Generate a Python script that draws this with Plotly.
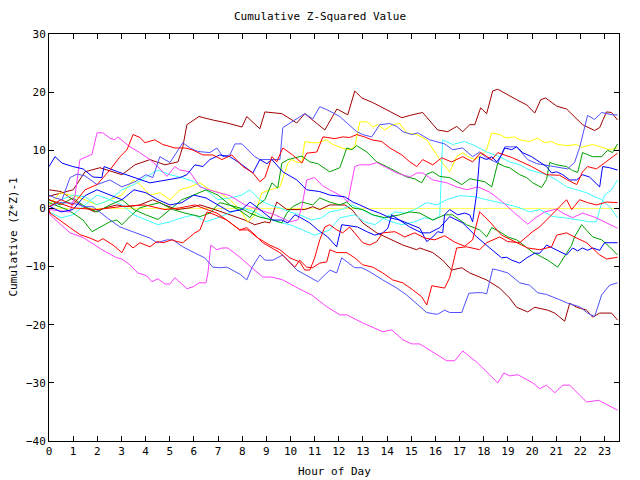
import plotly.graph_objects as go

# ---- data (hour of day, cumulative (Z*Z)-1) ----
dr_top_h = [0,1.0,1.49,2.11,3.02,3.56,4.18,4.80,5.34,5.54,5.71,6.21,6.79,7.37,7.99,8.19,8.73,8.94,9.64,10.26,10.59,11.42,11.92,12.37,12.66,12.95,13.41,13.98,14.61,14.94,15.47,16.09,16.51,16.88,17.13,17.42,17.63,17.87,18.12,18.37,18.58,19.36,19.78,20.11,20.36,20.56,21.02,21.43,22.09,22.59,22.80,23.08,23.29,23.54]
dr_top_v = [2.1,3.2,6.3,7.0,5.8,7.5,8.4,7.5,8.0,10.6,14.4,15.8,15.2,14.7,14.0,15.8,13.7,16.6,16.3,14.7,16.3,13.5,17.1,16.1,20.2,19.0,18.2,17.0,15.6,16.0,16.5,13.5,13.2,14.1,13.2,14.4,14.4,17.3,16.3,20.2,20.5,18.7,17.8,16.4,18.7,19.0,17.6,17.1,14.4,13.4,13.9,16.6,16.5,15.2]

lb_top_h = [0,0.25,0.54,0.87,1.16,1.49,1.99,2.52,3.02,3.56,4.01,4.30,4.59,5.01,5.54,5.83,6.16,6.66,6.95,7.20,7.49,7.70,7.99,8.52,8.73,9.56,9.68,10.18,10.38,10.59,10.92,11.21,11.50,12.04,12.74,12.99,13.36,13.69,14.11,14.40,14.65,15.02,15.27,15.76,16.38,16.71,17.13,17.54,17.83,18.12,18.58,18.87,19.36,19.82,20.19,20.85,21.47,21.76,21.97,22.30,22.59,22.88,23.33,23.54]
lb_top_v = [2.3,1.8,1.5,5.3,5.9,5.6,4.1,4.9,3.7,4.6,5.8,5.3,8.9,7.9,11.3,10.4,9.8,9.6,10.4,8.9,9.2,11.1,11.1,8.9,8.4,8.4,13.9,15.2,15.7,16.3,15.4,17.5,17.0,15.8,13.2,12.7,12.3,14.4,14.6,14.1,13.2,12.7,13.0,11.8,11.1,10.1,10.4,8.9,9.7,8.7,7.8,10.6,10.6,8.4,7.7,7.3,6.8,7.9,10.5,16.0,15.3,16.5,16.1,16.1]

g_top_h = [0,0.46,0.99,1.49,1.99,2.52,3.02,3.52,4.01,4.51,5.01,5.50,5.99,6.50,6.99,7.49,7.99,8.32,8.65,8.94,9.23,9.47,9.64,9.89,10.47,10.80,11.13,11.62,12.04,12.33,12.54,12.74,13.16,13.57,13.98,14.40,14.81,15.14,15.43,15.64,15.89,16.18,16.59,17.09,17.42,17.67,18.04,18.33,18.58,18.87,19.07,19.49,19.78,20.03,20.40,20.60,20.73,21.02,21.43,21.68,21.89,22.09,22.51,22.88,23.13,23.33,23.54]
g_top_v = [1.5,0.6,1.8,0.3,-0.6,0.6,1.5,-0.2,-1.1,-1.9,-0.2,1.5,2.3,3.2,2.3,0.6,-0.6,-1.6,0.6,1.5,4.4,3.5,7.8,8.4,9.0,8.0,7.7,6.3,7.0,10.4,10.1,10.8,9.7,8.0,7.2,6.3,5.4,5.1,4.4,5.9,6.3,5.5,5.3,4.1,5.1,4.9,4.6,3.7,7.8,7.2,7.0,5.8,5.3,4.4,3.6,5.0,7.9,7.5,7.2,6.5,6.2,9.6,8.9,8.9,10.0,9.6,11.1]

yel_h = [0,0.46,0.99,1.49,1.99,2.52,3.02,3.48,3.77,4.18,4.59,5.01,5.42,5.83,6.25,6.66,7.07,7.49,7.90,8.23,8.52,8.81,9.14,9.56,9.89,10.05,10.30,10.47,10.59,10.88,11.13,11.50,11.75,12.12,12.45,12.66,12.87,13.16,13.41,13.61,13.90,14.23,14.52,14.81,15.23,15.64,16.18,16.59,16.88,17.13,17.34,17.63,17.92,18.12,18.33,18.66,18.95,19.28,19.49,19.90,20.23,20.52,20.81,21.06,21.43,21.85,22.05,22.51,22.88,23.21,23.54]
yel_v = [0.6,2.7,2.2,1.5,0.6,1.5,2.3,4.9,4.1,2.3,2.7,1.5,3.2,3.7,4.4,3.2,2.7,1.5,-0.2,-2.3,-1.1,2.7,3.2,3.7,7.8,8.4,7.9,8.0,11.5,11.3,11.3,11.8,11.0,10.4,10.1,10.6,14.9,14.9,14.0,14.4,13.5,14.4,14.6,13.0,12.7,11.8,8.4,6.3,8.9,9.6,8.9,8.4,9.2,10.1,13.0,12.7,12.1,12.3,11.8,11.5,12.1,11.3,11.5,11.0,10.8,11.0,10.5,11.0,10.5,10.1,10.4]

r_a_h = [0,0.50,0.99,1.49,1.99,2.52,2.94,3.23,3.48,3.77,3.97,4.38,4.71,5.21,5.63,5.92,6.37,6.78,7.16,7.57,8.03,8.44,8.73,8.94,9.23,9.43,9.68,10.09,10.47,10.67,11.09,11.34,11.54,11.83,12.16,12.45,12.74,13.07,13.36,13.78,14.11,14.61,14.94,15.23,15.47,15.89,16.26,16.67,17.13,17.54,17.87,18.33,18.58,19.20,19.57,19.98,20.60,21.14,21.47,21.85,22.09,22.30,22.67,23.08,23.54]
r_a_v = [0.3,1.5,0.6,3.2,4.1,6.6,8.9,10.1,12.7,12.2,11.3,11.8,11.0,10.4,10.4,10.1,9.2,9.2,8.4,9.2,7.2,6.1,4.6,5.3,8.9,8.0,10.4,9.2,7.8,9.5,9.7,12.3,12.2,12.0,12.3,12.2,12.7,12.3,11.8,11.5,10.4,9.2,8.0,7.2,8.4,7.5,8.7,8.0,8.9,8.0,9.6,8.4,9.6,8.7,8.0,7.2,5.8,5.7,4.9,4.1,6.3,7.2,6.8,8.0,9.5]

b_a_h = [0,0.25,0.54,0.99,1.41,1.82,2.19,2.28,2.85,3.48,4.18,4.88,5.42,5.71,6.04,6.37,6.66,7.07,7.49,7.90,8.44,8.73,9.02,9.23,9.68,10.26,10.67,11.21,11.62,12.25,12.58,12.87,13.28,13.69,14.11,14.52,15.02,15.35,15.64,15.89,16.09,16.30,16.38,16.59,16.92,17.21,17.42,17.54,17.71,17.83,18.12,18.33,18.54,18.74,18.87,19.16,19.36,19.61,19.98,20.40,20.60,20.81,21.02,21.27,21.56,21.85,22.09,22.38,22.80,22.92,23.21,23.54]
b_a_v = [7.2,8.9,7.8,7.2,6.8,5.4,5.3,7.2,6.3,5.4,4.4,4.9,5.3,5.8,7.5,7.2,8.4,9.2,8.9,7.8,6.1,8.4,7.7,8.4,6.3,4.9,3.2,2.9,2.3,2.0,1.1,0.6,-0.2,-0.8,-1.6,-2.0,-2.8,-3.4,-5.7,-4.9,-4.0,-4.2,-1.1,-0.2,-1.1,-0.8,-1.1,-2.3,2.7,8.9,8.4,8.9,8.0,9.2,10.4,10.1,10.6,9.6,8.9,7.8,7.2,6.1,6.3,5.8,4.9,4.9,5.8,5.4,3.7,7.2,7.0,6.6]

b_b_h = [0,0.50,0.99,1.49,1.99,2.52,3.02,3.52,4.01,4.51,5.01,5.50,5.99,6.50,6.99,7.49,7.99,8.32,8.65,8.98,9.27,9.64,9.89,10.18,10.38,10.80,11.13,11.54,11.91,12.12,12.45,12.78,13.16,13.49,13.82,14.03,14.19,14.52,14.94,15.43,15.76,16.18,16.59,17.13,17.71,18.25,18.74,18.95,19.16,19.49,19.78,20.11,20.32,20.60,20.85,21.14,21.43,21.68,21.89,22.09,22.30,22.51,22.80,23.00,23.54]
b_b_v = [0.4,-0.6,-0.2,2.2,3.2,2.3,1.5,3.2,2.7,1.5,0.6,1.0,2.3,1.8,0.6,-0.6,-0.2,1.1,0.1,-1.1,-2.0,-2.0,-2.5,-1.1,-1.5,-2.5,-3.7,-4.9,-6.6,-2.8,-3.0,-3.2,-4.0,-4.6,-4.2,-3.4,-1.1,-2.0,-3.2,-4.2,-4.2,-3.3,-1.4,-2.5,-4.9,-6.8,-8.5,-8.4,-8.9,-9.4,-8.5,-7.7,-7.7,-6.3,-6.8,-7.5,-8.0,-6.8,-7.3,-6.8,-7.2,-6.8,-7.2,-5.9,-5.9]

c_a_h = [0,0.50,0.99,1.49,1.99,2.52,3.02,3.52,4.01,4.51,5.01,5.50,5.99,6.50,6.99,7.49,7.99,8.52,8.94,9.47,9.97,10.51,11.00,11.62,12.04,12.66,13.07,13.49,13.90,14.32,14.73,15.14,15.64,16.05,16.47,17.01,17.63,18.12,18.66,19.07,19.49,19.90,20.32,20.85,21.35,21.89,22.38,22.67,22.80,23.00,23.29,23.54]
c_a_v = [-0.6,-1.6,-1.1,0.6,2.3,1.5,0.6,-1.1,-2.0,-2.8,-2.3,-1.6,-1.1,-2.3,-1.6,-0.8,0.1,-0.6,-1.6,-2.3,-2.8,-3.7,-4.6,-3.7,-1.6,-1.1,-2.3,-2.8,-1.6,-0.6,-0.8,-0.2,1.0,0.6,1.5,2.2,2.0,1.5,1.0,0.6,0.1,-0.6,-0.2,-1.4,-1.6,-2.0,-2.3,-2.3,-0.2,2.3,3.2,4.9]

c_b_h = [0,0.50,0.99,1.49,1.99,2.52,3.02,3.52,4.01,4.51,5.01,5.50,5.99,6.50,6.99,7.49,7.99,8.32,8.73,9.14,9.56,9.97,10.38,10.88,11.29,11.62,12.12,12.54,12.95,13.36,13.78,14.19,14.61,15.14,15.56,15.97,16.18,16.30,16.71,17.21,17.63,18.12,18.66,19.07,19.49,19.90,20.60,21.02,21.43,21.85,22.26,22.59,22.88,23.21,23.54]
c_b_v = [0.3,1.5,2.3,2.0,0.6,1.5,3.2,4.1,5.4,6.6,5.8,5.3,4.6,3.2,1.5,1.8,2.3,3.2,1.5,0.6,0.1,-0.6,-1.1,-2.0,-1.6,-0.6,-0.2,0.6,-0.2,-1.1,-1.6,-2.3,-2.8,-2.3,-1.6,-2.0,-1.1,11.8,11.0,11.5,10.8,9.7,8.9,8.0,7.5,6.6,5.8,4.9,3.7,3.2,2.7,2.0,1.5,0.3,-1.6]

r_b_h = [0,0.04,0.87,1.28,1.70,2.03,2.23,2.65,3.02,3.23,3.48,3.76,4.18,4.47,4.72,5.09,5.30,5.54,5.83,6.04,6.25,6.37,6.54,6.87,7.36,7.90,8.19,8.44,8.85,9.56,9.89,10.18,10.38,10.67,10.92,11.21,11.50,11.63,11.92,12.33,12.66,12.99,13.41,13.82,14.23,14.65,15.06,15.43,15.64,15.85,16.38,16.59,16.88,17.29,17.83,18.12,18.66,18.99,19.49,20.02,20.31,21.02,21.43,21.64,21.97,22.30,22.67,23.09,23.54]
r_b_v = [-0.2,-0.8,-3.3,-4.5,-5.1,-5.7,-5.2,-6.3,-7.6,-5.9,-6.8,-5.9,-6.6,-5.7,-5.9,-5.4,-5.7,-5.9,-4.9,-4.2,-3.7,-2.5,-0.6,-1.1,-2.0,-3.7,-3.3,-4.2,-5.9,-7.6,-8.9,-10.1,-8.9,-10.1,-10.2,-9.4,-9.2,-7.1,-7.6,-7.6,-8.5,-9.7,-10.1,-11.1,-12.3,-12.8,-14.0,-15.2,-16.6,-13.3,-13.7,-11.9,-6.8,-6.6,-7.1,-5.9,-4.9,-5.7,-5.9,-4.0,-3.2,-0.2,1.5,-0.2,1.5,1.0,0.6,1.1,1.0]

r_c_h = [0,0.99,1.99,2.94,3.97,4.80,5.42,6.04,6.54,6.95,7.36,7.90,8.23,8.65,9.14,9.56,9.97,10.38,10.59,10.80,11.00,11.13,11.21,11.42,11.62,11.92,12.16,12.45,12.78,12.99,13.28,13.57,13.82,14.32,14.73,15.14,15.56,15.97,16.38,16.80,17.21,17.54,17.83,18.25,18.74,19.28,19.82,20.32,20.81,21.02,21.43,21.85,22.26,22.80,23.09,23.54]
r_c_v = [1.5,0.1,-0.2,0.3,0.6,-0.2,0.1,0.6,-0.2,-0.8,-2.0,-3.7,-3.7,-5.1,-6.3,-7.1,-8.5,-9.2,-10.6,-10.6,-8.5,-6.8,-5.4,-3.2,-2.8,-3.7,-4.2,-3.2,-4.9,-5.9,-6.3,-5.7,-4.2,-4.0,-4.9,-4.2,-5.1,-5.4,-4.7,-5.8,-6.5,-5.4,-0.6,-2.3,-4.6,-5.7,-6.8,-7.1,-6.6,-4.6,-4.2,-5.1,-5.9,-8.0,-8.7,-8.4]

m_mid_h = [0,0.87,1.08,1.28,1.78,1.99,2.23,2.52,2.73,2.85,3.14,3.35,3.76,4.18,4.51,4.88,5.21,5.42,5.83,6.25,6.87,7.49,8.11,8.73,9.35,9.97,10.30,10.47,10.67,11.00,11.33,11.62,12.16,12.37,12.54,12.66,12.87,13.28,13.57,13.90,14.40,14.94,15.23,15.47,15.89,16.47,16.88,17.30,17.75,18.25,18.78,19.28,19.49,19.82,20.19,20.52,21.02,21.27,21.68,22.09,22.59,23.08,23.54]
m_mid_v = [-0.2,-0.6,2.3,8.4,9.3,13.0,13.0,12.1,11.8,12.3,11.3,10.6,9.6,8.4,7.2,5.5,7.2,6.6,6.3,3.7,2.9,2.2,0.6,-0.2,-1.1,-2.3,-2.0,0.3,4.9,5.3,3.9,3.2,2.0,1.1,4.4,7.2,7.5,7.5,7.9,7.2,6.1,5.4,6.1,6.1,4.9,4.4,3.7,3.2,3.7,2.8,1.1,-0.8,-1.6,-2.7,-1.5,-0.6,-0.1,-0.8,-1.6,-0.8,-1.5,-2.5,-3.4]

lb_bot_h = [0,0.45,0.99,1.49,1.82,2.40,2.94,3.64,4.18,4.47,4.88,5.13,5.54,5.96,6.45,6.78,7.07,7.36,7.90,8.19,8.40,8.73,8.94,9.27,9.68,10.26,10.67,11.13,11.63,11.91,12.12,12.66,12.95,13.28,13.82,14.40,14.81,15.22,15.64,15.89,16.09,16.38,16.59,17.09,17.38,17.67,17.96,18.12,18.37,18.58,19.00,19.49,19.90,20.23,20.60,21.14,21.47,21.97,22.30,22.59,22.88,23.21,23.54]
lb_bot_v = [0.3,1.0,0.9,0.3,0.3,-1.6,-3.2,-4.2,-5.1,-5.9,-5.4,-5.4,-6.6,-7.5,-8.5,-10.1,-10.2,-10.1,-11.3,-12.3,-10.2,-8.0,-8.9,-8.9,-8.0,-10.6,-11.5,-12.6,-10.6,-11.1,-8.5,-10.2,-10.2,-10.9,-12.3,-13.7,-14.9,-16.3,-17.9,-18.1,-18.2,-17.5,-17.9,-17.9,-14.6,-14.5,-14.5,-14.7,-10.4,-10.6,-11.1,-12.8,-13.2,-14.5,-14.8,-15.7,-16.3,-16.9,-18.0,-18.6,-14.9,-13.2,-12.8]

dr_bot_h = [0,0.50,0.99,1.41,1.90,2.32,2.81,3.23,3.76,4.30,4.80,5.30,5.83,6.25,6.87,7.49,8.11,8.52,8.94,9.14,9.43,9.85,10.59,10.92,11.21,11.62,12.25,12.54,12.99,13.57,14.23,14.65,15.22,15.35,15.89,16.30,16.67,17.09,17.42,18.12,18.66,19.07,19.36,19.82,20.11,20.65,20.94,21.35,21.56,21.85,22.26,22.51,22.80,23.29,23.54]
dr_bot_v = [3.2,2.9,1.5,0.3,-0.6,0.1,0.6,0.3,0.6,1.5,0.6,-0.2,0.1,0.6,-0.2,-1.1,-2.0,-2.8,-2.3,-2.5,1.1,-0.2,-0.2,0.3,-0.2,0.6,0.6,-0.2,-2.5,-4.2,-5.4,-6.3,-7.1,-6.8,-7.6,-8.9,-10.6,-10.2,-11.1,-12.3,-13.7,-15.4,-17.0,-17.8,-17.0,-17.5,-18.0,-19.4,-16.3,-17.0,-17.5,-18.7,-18.0,-18.0,-19.2]

g_b_h = [0,0.74,0.99,1.41,1.78,2.11,2.52,2.81,3.02,3.43,3.76,4.18,4.59,5.13,5.63,6.25,6.66,7.07,7.49,7.90,8.32,8.73,9.27,9.64,9.85,10.09,10.47,10.92,11.21,11.62,12.04,12.33,12.58,12.99,13.41,13.90,14.52,14.94,15.35,15.89,16.38,16.71,17.29,17.83,18.12,18.33,18.74,18.99,19.36,20.02,20.65,21.06,21.43,21.64,21.76,22.05,22.51,22.88,23.21,23.54]
g_b_v = [1.0,-0.2,-0.8,-2.0,-4.0,-3.3,-2.3,-2.0,-2.8,-1.1,0.1,0.6,1.0,-0.2,-0.8,-1.4,-0.8,1.0,0.6,0.1,-0.8,-1.5,-2.0,-2.5,-0.8,0.3,1.1,0.6,1.8,1.1,0.6,1.1,0.1,-0.2,-1.1,-1.6,-1.1,-0.6,-0.8,-2.0,-1.1,-1.1,-2.8,-3.7,-4.9,-3.3,-4.2,-4.9,-5.4,-7.5,-8.9,-10.1,-7.7,-6.3,-4.9,-2.8,-4.9,-5.4,-6.6,-8.0]

m_bot_h = [0,0.04,0.87,1.41,1.90,2.19,2.81,3.02,3.35,3.68,4.05,4.26,4.51,4.80,5.01,5.21,5.71,5.96,6.21,6.50,6.58,6.70,6.95,7.16,7.41,7.90,8.40,8.85,9.23,9.68,10.30,10.88,11.50,12.04,12.33,12.99,13.82,14.19,14.65,15.02,15.35,16.05,16.47,16.80,17.13,17.75,18.58,18.83,19.07,19.41,20.03,20.32,20.60,20.94,21.27,21.56,21.85,22.26,22.76,23.54]
m_bot_v = [-0.1,-1.1,-4.2,-5.0,-6.3,-7.1,-8.5,-8.7,-9.7,-11.1,-11.6,-12.6,-12.1,-13.0,-13.0,-11.9,-13.8,-13.5,-12.8,-12.8,-11.1,-6.3,-7.1,-6.8,-6.8,-8.4,-10.2,-11.8,-11.8,-12.3,-13.7,-14.9,-16.9,-18.3,-18.3,-19.7,-21.2,-20.9,-22.6,-23.3,-23.3,-25.2,-26.2,-26.2,-24.5,-26.6,-30.0,-28.3,-28.8,-28.6,-30.0,-31.0,-30.4,-31.7,-30.4,-30.4,-31.6,-33.3,-33.0,-34.7]

zero_h = [0, 23.6]
zero_v = [0, 0]

series = [
    (zero_h, zero_v, "#ffff50"),
    (dr_top_h, dr_top_v, "#a00000"),
    (dr_bot_h, dr_bot_v, "#a00000"),
    (yel_h, yel_v, "#ffff00"),
    (c_a_h, c_a_v, "#40ffff"),
    (c_b_h, c_b_v, "#40ffff"),
    (g_top_h, g_top_v, "#00a000"),
    (g_b_h, g_b_v, "#00a000"),
    (m_mid_h, m_mid_v, "#ff40ff"),
    (m_bot_h, m_bot_v, "#ff40ff"),
    (lb_top_h, lb_top_v, "#5050ff"),
    (lb_bot_h, lb_bot_v, "#5050ff"),
    (b_a_h, b_a_v, "#0000ff"),
    (b_b_h, b_b_v, "#0000ff"),
    (r_a_h, r_a_v, "#ff0000"),
    (r_b_h, r_b_v, "#ff0000"),
    (r_c_h, r_c_v, "#ff0000"),
]

fig = go.Figure()
for h, v, col in series:
    fig.add_trace(go.Scatter(x=h, y=v, mode="lines",
                             line=dict(color=col, width=1), showlegend=False,
                             hoverinfo="skip"))

font = dict(family="DejaVu Sans Mono", size=11, color="black")
axis_common = dict(showgrid=False, zeroline=False, showline=True, linecolor="black",
                   linewidth=1, mirror="ticks", ticks="inside", ticklen=5,
                   tickcolor="black", tickfont=font)
fig.update_layout(
    width=640, height=480,
    margin=dict(l=49, r=21, t=34, b=39),
    paper_bgcolor="white", plot_bgcolor="white",
    font=font,
    title=dict(text="Cumulative Z-Squared Value", x=0.5, xanchor="center",
               y=1 - 16 / 480, yanchor="middle", font=font),
    xaxis=dict(range=[0, 23.6], tickmode="linear", tick0=0, dtick=1, **axis_common),
    yaxis=dict(range=[-40, 30], tickmode="linear", tick0=-40, dtick=10, **axis_common),
    annotations=[
        dict(text="Hour of Day", xref="paper", yref="paper", x=0.5, y=-31 / 407,
             xanchor="center", yanchor="middle", showarrow=False, font=font),
        dict(text="Cumulative (Z*Z)-1", xref="paper", yref="paper", x=-36 / 570, y=0.5,
             xanchor="center", yanchor="middle", showarrow=False, textangle=-90, font=font),
    ],
)

fig.write_html("out.html")
